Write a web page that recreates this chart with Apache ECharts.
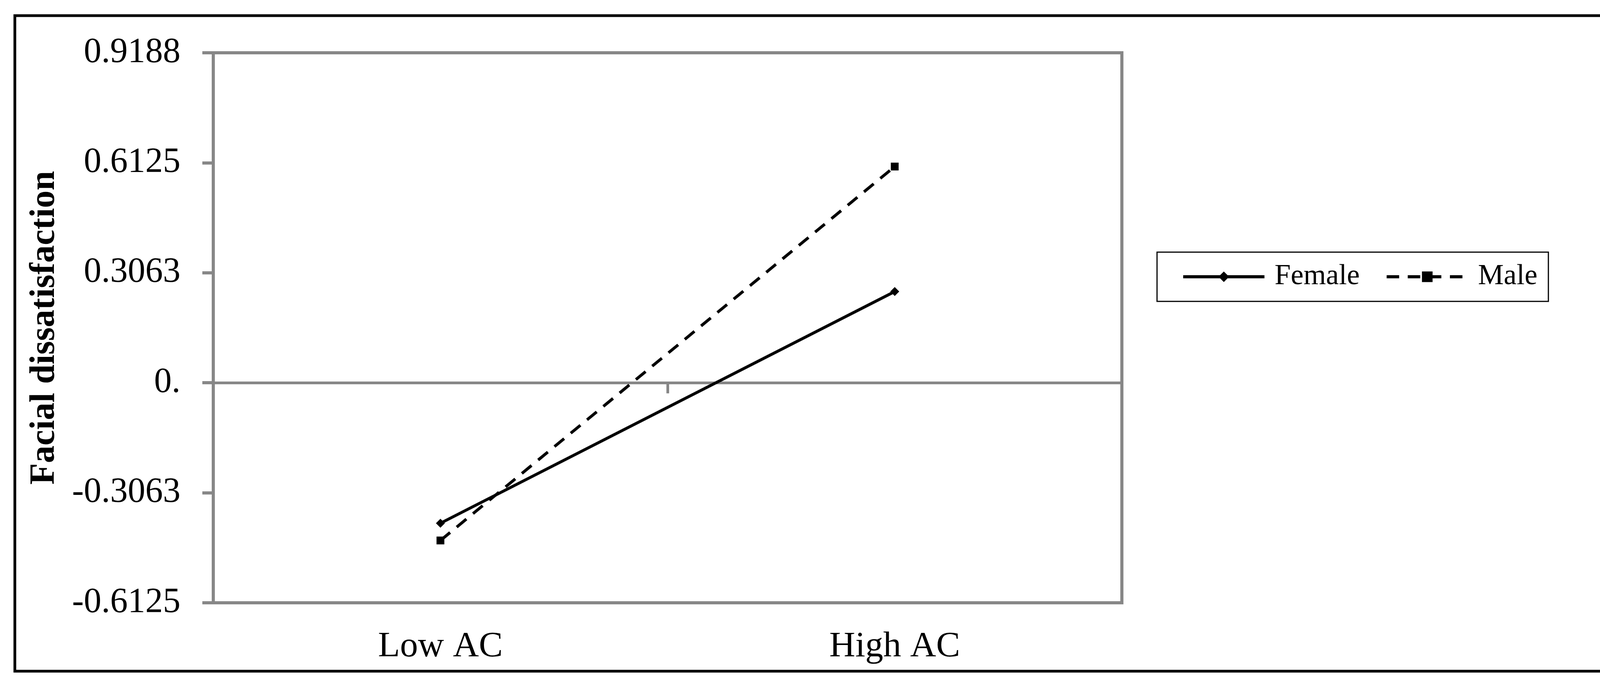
<!DOCTYPE html>
<html>
<head>
<meta charset="utf-8">
<script src="https://cdn.jsdelivr.net/npm/echarts@6/dist/echarts.min.js"></script>
<style>
    html, body { margin: 0; padding: 0; background: #fff; }
    #main { width: 4200px; height: 1760px; }
</style>
</head>
<body>
<div id="main"></div>
<script>
// data
var categories = ['Low AC', 'High AC'];
var seriesNames = ['Female', 'Male'];
var femaleValues = [-0.391, 0.254];
var maleValues = [-0.439, 0.602];
var yTickLabels = ['-0.6125', '-0.3063', '0.', '0.3063', '0.6125', '0.9188'];
var yMin = -0.6125, yMax = 0.91875, yStep = 0.30625;

var gray = '#878787';
var serif = 'Liberation Serif';

var chart = echarts.init(document.getElementById('main'));

var option = {
    backgroundColor: '#fff',
    animation: false,
    graphic: [{
        type: 'rect',
        shape: { x: 38, y: 40, width: 4122, height: 1677 },
        style: { fill: 'none', stroke: '#000', lineWidth: 7 },
        silent: true
    }],
    legend: {
        data: seriesNames,
        left: 2962,
        top: 645,
        itemWidth: 208,
        itemHeight: 34,
        itemGap: 65,
        padding: [26, 28, 26, 63],
        borderColor: '#000',
        borderWidth: 3,
        lineStyle: { width: 8 },
        textStyle: {
            fontFamily: serif,
            fontSize: 74,
            color: '#000',
            padding: [0, 0, 0, 21]
        }
    },
    grid: {
        left: 546,
        right: 4200 - 2872,
        top: 135,
        bottom: 1760 - 1542,
        show: true,
        borderColor: gray,
        borderWidth: 8,
        backgroundColor: 'transparent'
    },
    xAxis: [{
        // bottom axis only carries the category labels
        type: 'category',
        data: categories,
        position: 'bottom',
        boundaryGap: true,
        axisLine: { show: false, onZero: false },
        axisTick: { show: false },
        axisLabel: {
            fontFamily: serif,
            fontSize: 92,
            color: '#000',
            margin: 67
        },
        splitLine: { show: false }
    }, {
        // the horizontal line crossing at zero
        type: 'category',
        data: categories,
        position: 'bottom',
        boundaryGap: true,
        axisLine: { show: true, onZero: true, lineStyle: { color: gray, width: 7 } },
        axisTick: { show: true, length: 27, lineStyle: { color: gray, width: 7 } },
        axisLabel: { show: false },
        splitLine: { show: false }
    }],
    yAxis: {
        type: 'value',
        min: yMin,
        max: yMax,
        interval: yStep,
        name: 'Facial dissatisfaction',
        nameLocation: 'middle',
        nameRotate: 90,
        nameGap: 386,
        nameTextStyle: {
            fontFamily: serif,
            fontSize: 90,
            fontWeight: 'bold',
            color: '#000'
        },
        axisLine: { show: false, onZero: false },
        axisTick: { show: true, length: 28, lineStyle: { color: gray, width: 8 } },
        axisLabel: {
            fontFamily: serif,
            fontSize: 90,
            color: '#000',
            margin: 84,
            formatter: function (v) {
                var i = Math.round((v - yMin) / yStep);
                return yTickLabels[i];
            }
        },
        splitLine: { show: false }
    },
    series: [{
        name: seriesNames[0],
        type: 'line',
        xAxisIndex: 0,
        data: femaleValues,
        symbol: 'diamond',
        symbolSize: 23,
        lineStyle: { color: '#000', width: 7.5, type: 'solid' },
        itemStyle: { color: '#000' }
    }, {
        name: seriesNames[1],
        type: 'line',
        xAxisIndex: 0,
        data: maleValues,
        symbol: 'rect',
        symbolSize: 20,
        lineStyle: { color: '#000', width: 7.5, type: [32, 22], cap: 'butt' },
        itemStyle: { color: '#000' }
    }]
};

chart.setOption(option);
</script>
</body>
</html>
